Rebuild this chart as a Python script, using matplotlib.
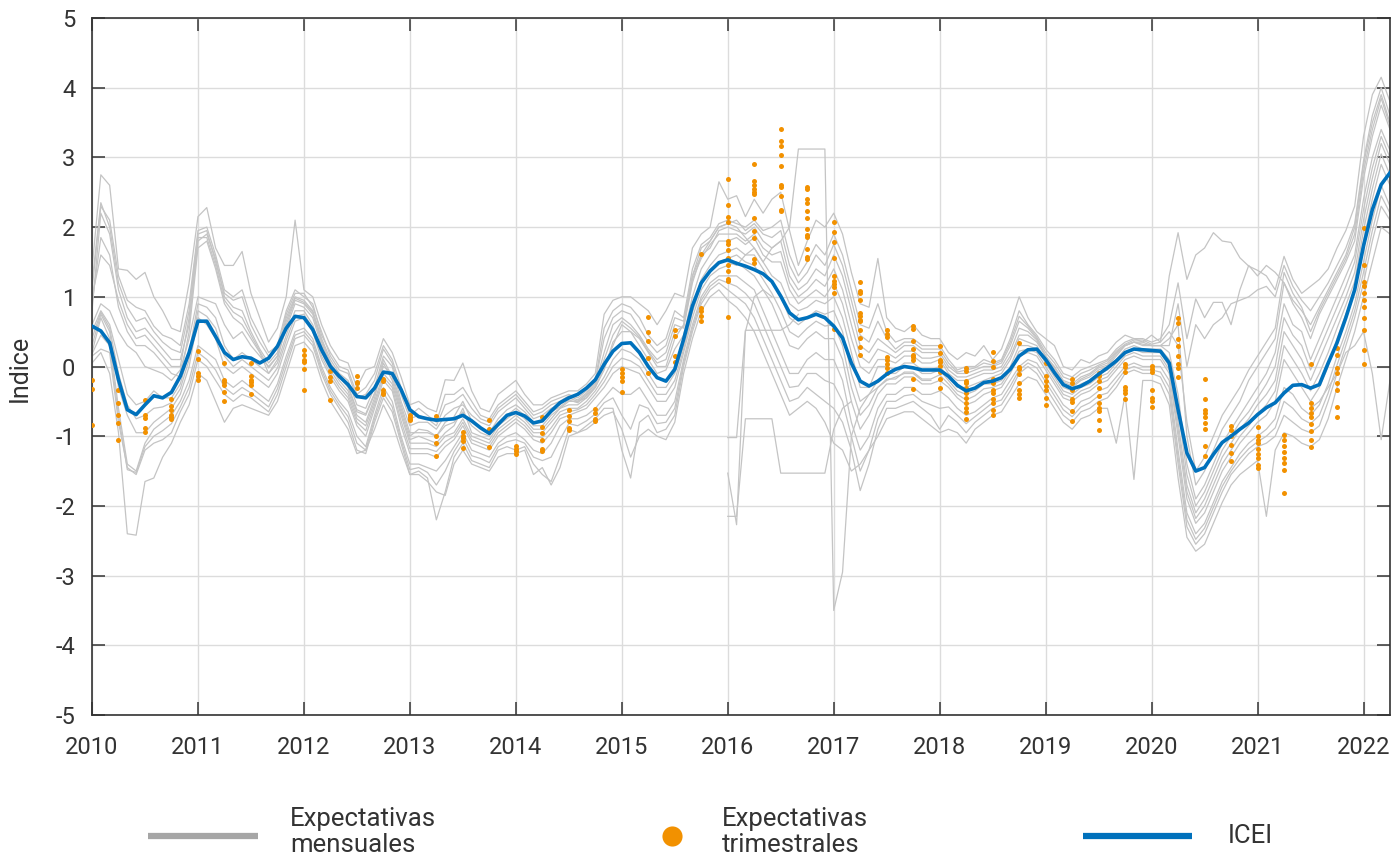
import numpy as np
import matplotlib
matplotlib.use("Agg")
import matplotlib.pyplot as plt
from matplotlib.lines import Line2D

plt.rcParams['font.family'] = ['Roboto', 'DejaVu Sans']
plt.rcParams['axes.unicode_minus'] = False

# ---------------- DATA ----------------
# ICEI, monthly Jan 2010 .. Apr 2022
icei = [
    0.58, 0.51, 0.34, -0.19, -0.62, -0.69, -0.55, -0.42, -0.45, -0.37, -0.14, 0.20,
    0.65, 0.65, 0.43, 0.20, 0.10, 0.14, 0.12, 0.05, 0.12, 0.29, 0.55, 0.72,
    0.70, 0.53, 0.24, 0.00, -0.14, -0.26, -0.43, -0.45, -0.31, -0.08, -0.10, -0.33,
    -0.62, -0.72, -0.75, -0.77, -0.76, -0.75, -0.70, -0.78, -0.88, -0.96, -0.83, -0.70,
    -0.66, -0.71, -0.81, -0.78, -0.64, -0.52, -0.45, -0.40, -0.31, -0.19, 0.03, 0.22,
    0.33, 0.34, 0.20, 0.00, -0.16, -0.21, -0.04, 0.39, 0.87, 1.20, 1.37, 1.49,
    1.53, 1.48, 1.44, 1.39, 1.33, 1.22, 1.01, 0.77, 0.67, 0.70, 0.75, 0.70,
    0.58, 0.41, 0.05, -0.21, -0.28, -0.21, -0.11, -0.04, 0.00, -0.02, -0.05, -0.05,
    -0.05, -0.14, -0.27, -0.35, -0.31, -0.23, -0.21, -0.16, -0.04, 0.15, 0.24, 0.25,
    0.10, -0.09, -0.26, -0.32, -0.28, -0.21, -0.11, -0.02, 0.08, 0.20, 0.25, 0.24,
    0.23, 0.22, 0.05, -0.62, -1.24, -1.50, -1.45, -1.26, -1.09, -1.00, -0.90, -0.81,
    -0.69, -0.59, -0.52, -0.38, -0.27, -0.26, -0.31, -0.26, 0.05, 0.34, 0.70, 1.10,
    1.73, 2.25, 2.61, 2.78,
]

# Monthly expectation series (grey), Jan 2010 .. Apr 2022
g1 = [
    1.40, 2.75, 2.60, 1.40, 1.38, 1.25, 1.35, 1.00, 0.80, 0.55, 0.50, 1.20,
    2.15, 2.28, 1.70, 1.45, 1.45, 1.65, 1.05, 0.70, 0.35, 0.55, 1.00, 2.10,
    1.10, 1.00, 0.60, 0.30, 0.10, 0.05, -0.30, -0.05, 0.00, 0.40, 0.20, -0.15,
    -0.55, -0.50, -0.60, -0.65, -0.19, -0.20, 0.05, -0.35, -0.60, -0.65, -0.40, -0.30,
    -0.20, -0.40, -0.55, -0.55, -0.45, -0.40, -0.35, -0.35, -0.25, -0.10, 0.75, 0.95,
    1.00, 1.00, 0.90, 0.80, 0.60, 0.80, 1.05, 1.00, 1.70, 1.90, 2.00, 2.65,
    2.40, 2.45, 2.15, 2.40, 2.20, 2.40, 2.50, 1.95, 1.45, 1.80, 2.10, 2.00,
    2.20, 1.90, 1.35, 0.90, 0.85, 1.55, 0.70, 0.55, 0.50, 0.60, 0.45, 0.40,
    0.40, 0.20, 0.10, 0.20, 0.15, 0.30, 0.10, 0.25, 0.60, 1.00, 0.70, 0.50,
    0.40, 0.30, 0.00, -0.05, 0.10, 0.05, 0.15, 0.20, 0.35, 0.45, 0.40, 0.35,
    0.45, 0.35, 1.30, 1.92, 1.25, 1.60, 1.70, 1.92, 1.80, 1.78, 1.56, 1.44,
    1.38, 1.30, 1.10, 1.58, 1.25, 1.05, 1.15, 1.25, 1.40, 1.70, 1.95, 2.30,
    3.30, 3.90, 4.15, 3.80,
]
g2 = [
    1.10, 2.30, 2.10, 1.30, 0.95, 0.85, 0.80, 0.58, 0.45, 0.40, 0.30, 0.90,
    1.95, 2.00, 1.60, 1.10, 1.00, 1.10, 0.70, 0.45, 0.20, 0.30, 0.80, 1.10,
    1.00, 0.90, 0.45, 0.20, 0.00, -0.05, -0.40, -0.30, -0.10, 0.30, 0.10, -0.30,
    -0.70, -0.60, -0.70, -0.80, -0.40, -0.40, -0.30, -0.50, -0.70, -0.75, -0.55, -0.45,
    -0.35, -0.50, -0.65, -0.60, -0.50, -0.45, -0.40, -0.45, -0.35, -0.20, 0.55, 0.80,
    0.90, 0.85, 0.70, 0.45, 0.30, 0.40, 0.80, 0.70, 1.40, 1.75, 1.85, 2.05,
    2.10, 2.05, 2.00, 2.10, 1.95, 2.00, 2.10, 1.60, 1.30, 1.50, 1.75, 1.60,
    1.90, 1.60, 1.10, 0.60, 0.55, 0.90, 0.50, 0.35, 0.40, 0.40, 0.30, 0.30,
    0.30, 0.10, -0.05, 0.00, 0.00, 0.10, 0.05, 0.10, 0.40, 0.80, 0.60, 0.45,
    0.25, 0.10, -0.10, -0.15, -0.05, 0.00, 0.05, 0.10, 0.25, 0.35, 0.40, 0.40,
    0.35, 0.40, 0.60, 1.20, 0.40, 0.97, 0.70, 0.92, 0.92, 0.60, 1.10, 1.45,
    1.30, 1.45, 1.35, 1.20, 0.95, 0.80, 0.60, 0.85, 1.10, 1.35, 1.60, 2.00,
    2.90, 3.50, 3.90, 3.50,
]
g3 = [
    0.80, 2.20, 1.90, 1.10, 0.70, 0.50, 0.55, 0.40, 0.25, 0.10, 0.10, 0.60,
    1.80, 1.90, 1.55, 1.00, 0.85, 0.80, 0.50, 0.25, 0.05, 0.20, 0.70, 1.00,
    0.95, 0.80, 0.40, 0.10, -0.10, -0.20, -0.55, -0.60, -0.30, 0.15, 0.00, -0.50,
    -0.85, -0.80, -0.80, -0.90, -0.70, -0.60, -0.55, -0.70, -0.80, -0.85, -0.65, -0.55,
    -0.45, -0.60, -0.75, -0.70, -0.60, -0.55, -0.45, -0.50, -0.40, -0.25, 0.20, 0.60,
    0.70, 0.60, 0.45, 0.25, 0.10, 0.20, 0.60, 0.55, 1.20, 1.60, 1.70, 1.95,
    2.00, 1.95, 1.90, 2.00, 1.80, 1.70, 1.80, 1.30, 1.10, 1.20, 1.40, 1.30,
    1.60, 1.30, 0.80, 0.30, 0.20, 0.40, 0.30, 0.20, 0.30, 0.30, 0.20, 0.20,
    0.20, 0.00, -0.10, -0.10, -0.05, 0.00, 0.00, 0.05, 0.30, 0.65, 0.55, 0.40,
    0.15, 0.00, -0.20, -0.25, -0.15, -0.10, 0.00, 0.05, 0.20, 0.30, 0.35, 0.35,
    0.30, 0.30, 0.40, 0.60, -1.00, -1.70, -1.50, -1.20, -0.90, -0.70, -0.50, -0.20,
    0.00, 0.20, 0.40, 1.20, 0.90, 0.70, 0.40, 0.75, 1.00, 1.25, 1.50, 1.80,
    2.70, 3.30, 3.75, 3.40,
]
g4 = [
    0.60, 0.90, 0.80, 0.50, 0.30, 0.20, 0.00, -0.05, -0.10, -0.20, -0.05, 0.40,
    1.00, 0.95, 0.90, 0.60, 0.40, 0.50, 0.30, 0.15, 0.00, 0.15, 0.55, 0.90,
    0.85, 0.70, 0.30, 0.05, -0.15, -0.30, -0.65, -0.70, -0.40, 0.00, -0.10, -0.55,
    -0.95, -0.95, -0.95, -1.00, -0.85, -0.80, -0.65, -0.85, -0.95, -1.00, -0.80, -0.70,
    -0.60, -0.70, -0.85, -0.85, -0.70, -0.60, -0.55, -0.55, -0.45, -0.30, -0.05, 0.35,
    0.50, 0.50, 0.30, 0.10, -0.10, -0.05, 0.25, 0.45, 1.00, 1.40, 1.60, 1.80,
    1.80, 1.85, 1.75, 1.85, 1.60, 1.50, 1.50, 1.10, 0.90, 1.00, 1.10, 1.00,
    1.20, 0.90, 0.40, 0.00, -0.10, 0.10, 0.10, 0.05, 0.15, 0.15, 0.05, 0.05,
    0.10, -0.10, -0.20, -0.20, -0.15, -0.10, -0.10, -0.05, 0.15, 0.45, 0.45, 0.35,
    0.15, -0.05, -0.25, -0.30, -0.20, -0.15, -0.05, 0.00, 0.15, 0.30, 0.35, 0.30,
    0.30, 0.30, 0.20, -0.40, -1.40, -1.90, -1.70, -1.40, -1.10, -0.90, -0.70, -0.50,
    -0.30, -0.10, 0.20, 0.90, 0.60, 0.50, 0.10, 0.40, 0.70, 1.00, 1.30, 1.60,
    2.40, 3.00, 3.40, 3.10,
]
g5 = [
    0.50, 0.80, 0.60, 0.10, -0.40, -0.55, -0.50, -0.35, -0.45, -0.45, -0.25, 0.20,
    0.90, 0.85, 0.70, 0.30, 0.10, 0.20, 0.10, 0.00, -0.10, 0.05, 0.45, 0.80,
    0.80, 0.60, 0.20, -0.05, -0.25, -0.40, -0.75, -0.85, -0.50, -0.10, -0.25, -0.70,
    -1.10, -1.10, -1.10, -1.15, -1.00, -0.95, -0.75, -1.00, -1.05, -1.10, -0.90, -0.80,
    -0.70, -0.80, -0.95, -0.95, -0.80, -0.65, -0.60, -0.60, -0.50, -0.35, -0.15, 0.10,
    0.25, 0.20, 0.10, -0.10, -0.30, -0.30, -0.10, 0.30, 0.85, 1.25, 1.45, 1.60,
    1.65, 1.70, 1.60, 1.60, 1.40, 1.20, 1.00, 0.70, 0.60, 0.70, 0.80, 0.75,
    0.80, 0.50, -0.10, -0.50, -0.40, -0.20, -0.10, -0.10, 0.00, 0.00, -0.10, -0.10,
    -0.05, -0.20, -0.35, -0.40, -0.35, -0.25, -0.25, -0.20, 0.00, 0.30, 0.30, 0.25,
    0.05, -0.15, -0.35, -0.40, -0.30, -0.25, -0.15, -0.10, 0.05, 0.20, 0.25, 0.20,
    0.20, 0.20, 0.00, -0.80, -1.70, -2.10, -1.90, -1.60, -1.30, -1.10, -0.90, -0.75,
    -0.55, -0.40, -0.20, 0.50, 0.30, 0.10, -0.20, 0.10, 0.40, 0.70, 1.00, 1.35,
    2.10, 2.70, 3.20, 2.90,
]
g6 = [
    0.30, 0.75, 0.50, -0.30, -0.70, -0.95, -0.95, -0.80, -0.70, -0.60, -0.40, 0.00,
    0.70, 0.60, 0.40, 0.00, -0.10, 0.00, -0.10, -0.20, -0.30, -0.10, 0.30, 0.65,
    0.70, 0.50, 0.10, -0.15, -0.35, -0.50, -0.85, -1.00, -0.60, -0.20, -0.35, -0.85,
    -1.25, -1.25, -1.25, -1.30, -1.15, -1.05, -0.85, -1.10, -1.15, -1.20, -1.00, -0.90,
    -0.80, -0.90, -1.05, -1.10, -0.95, -0.75, -0.70, -0.65, -0.60, -0.45, -0.30, -0.10,
    0.00, -0.05, -0.10, -0.30, -0.50, -0.50, -0.30, 0.20, 0.70, 1.10, 1.30, 1.40,
    1.45, 1.50, 1.40, 1.30, 1.10, 0.90, 0.60, 0.30, 0.25, 0.40, 0.50, 0.40,
    0.40, 0.10, -0.50, -0.90, -0.70, -0.40, -0.25, -0.25, -0.15, -0.15, -0.25, -0.25,
    -0.20, -0.30, -0.45, -0.55, -0.50, -0.40, -0.35, -0.30, -0.10, 0.15, 0.20, 0.15,
    -0.05, -0.25, -0.45, -0.50, -0.40, -0.35, -0.25, -0.20, -0.05, 0.10, 0.15, 0.10,
    0.10, 0.10, -0.10, -1.00, -1.90, -2.25, -2.10, -1.80, -1.50, -1.30, -1.10, -0.95,
    -0.80, -0.70, -0.50, 0.10, -0.10, -0.30, -0.50, -0.30, 0.00, 0.40, 0.75, 1.10,
    1.80, 2.40, 2.90, 2.60,
]
g7 = [
    0.20, 0.70, 0.40, -0.60, -1.40, -1.50, -1.10, -0.90, -0.80, -0.70, -0.50, -0.20,
    0.30, 0.20, 0.10, -0.20, -0.30, -0.20, -0.30, -0.40, -0.50, -0.25, 0.15, 0.50,
    0.55, 0.40, 0.00, -0.30, -0.50, -0.65, -1.00, -1.15, -0.70, -0.30, -0.50, -1.00,
    -1.40, -1.40, -1.45, -1.50, -1.35, -1.15, -0.95, -1.20, -1.25, -1.30, -1.10, -1.00,
    -0.95, -1.05, -1.20, -1.25, -1.10, -0.85, -0.75, -0.75, -0.70, -0.60, -0.45, -0.30,
    -0.40, -0.40, -0.30, -0.50, -0.70, -0.70, -0.50, 0.10, 0.60, 1.00, 1.20, 1.30,
    1.30, 1.30, 1.20, 1.10, 0.80, 0.50, 0.20, -0.10, -0.10, 0.10, 0.20, 0.10,
    0.10, -0.20, -0.80, -1.20, -1.00, -0.60, -0.40, -0.40, -0.30, -0.30, -0.40, -0.40,
    -0.35, -0.45, -0.60, -0.70, -0.65, -0.55, -0.45, -0.40, -0.20, 0.00, 0.10, 0.05,
    -0.15, -0.35, -0.55, -0.65, -0.50, -0.45, -0.35, -0.30, -0.15, 0.00, 0.05, 0.00,
    0.00, 0.00, -0.20, -1.20, -2.10, -2.40, -2.25, -1.95, -1.65, -1.45, -1.25, -1.10,
    -1.00, -0.90, -0.75, -0.30, -0.40, -0.60, -0.70, -0.55, -0.25, 0.15, 0.50, 0.90,
    1.50, 2.10, 2.60, 2.30,
]
g8 = [
    0.15, 0.25, 0.20, -0.80, -1.45, -1.55, -1.20, -1.10, -1.05, -0.95, -0.65, -0.40,
    0.10, 0.00, -0.20, -0.40, -0.50, -0.40, -0.45, -0.55, -0.65, -0.40, 0.00, 0.40,
    0.45, 0.30, -0.10, -0.40, -0.60, -0.80, -1.20, -1.25, -0.80, -0.45, -0.65, -1.10,
    -1.55, -1.50, -1.60, -2.20, -1.80, -1.30, -1.10, -1.35, -1.40, -1.45, -1.20, -1.15,
    -1.20, -1.15, -1.40, -1.55, -1.65, -1.30, -0.90, -0.95, -0.85, -0.75, -0.60, -0.60,
    -1.20, -1.60, -0.80, -0.70, -0.95, -0.90, -0.70, 0.00, 0.50, 0.90, 1.10, 1.20,
    1.10, 1.00, 0.90, 0.70, 0.40, 0.10, -0.20, -0.50, -0.45, -0.30, -0.40, -0.50,
    -0.60, -0.80, -1.20, -1.78, -1.40, -0.90, -0.60, -0.60, -0.55, -0.50, -0.60, -0.70,
    -0.90, -0.70, -0.80, -0.95, -0.80, -0.70, -0.60, -0.55, -0.35, -0.10, 0.00, -0.10,
    -0.30, -0.50, -0.70, -0.80, -0.65, -0.60, -0.50, -0.45, -0.30, -0.10, -0.05, -0.10,
    -0.10, -0.15, -0.40, -1.40, -2.30, -2.55, -2.40, -2.10, -1.80, -1.55, -1.40, -1.25,
    -1.15, -1.10, -1.00, -0.70, -0.80, -0.90, -0.95, -0.85, -0.50, -0.10, 0.30, 0.70,
    1.20, 1.80, 2.30, 2.10,
]
g9 = [
    0.05, 0.20, -0.10, -0.95, -2.40, -2.42, -1.65, -1.60, -1.30, -1.10, -0.80, -0.55,
    -0.10, -0.20, -0.50, -0.80, -0.60, -0.55, -0.60, -0.65, -0.70, -0.50, -0.10, 0.30,
    0.35, 0.20, -0.20, -0.50, -0.70, -0.90, -1.25, -1.20, -0.90, -0.55, -0.80, -1.20,
    -1.55, -1.55, -1.65, -1.80, -1.85, -1.40, -1.20, -1.40, -1.45, -1.50, -1.30, -1.25,
    -1.25, -1.20, -1.55, -1.45, -1.70, -1.45, -1.00, -0.95, -0.90, -0.80, -0.70, -0.65,
    -0.90, -1.30, -1.00, -0.90, -1.00, -1.05, -0.80, -0.10, 0.40, 0.80, 1.00, 1.10,
    0.95, 0.85, 0.70, 0.50, 0.20, -0.10, -0.40, -0.70, -0.60, -0.50, -0.60, -0.80,
    -1.10, -1.20, -1.50, -1.40, -1.20, -1.00, -0.75, -0.70, -0.65, -0.65, -0.75, -0.85,
    -0.95, -0.90, -0.95, -1.10, -0.90, -0.80, -0.70, -0.65, -0.45, -0.25, -0.15, -0.20,
    -0.40, -0.60, -0.80, -0.90, -0.75, -0.70, -0.60, -0.60, -1.10, -0.40, -1.62, -0.20,
    -0.20, -0.25, -0.55, -1.60, -2.45, -2.65, -2.55, -2.25, -1.95, -1.70, -1.55, -1.45,
    -1.35, -2.15, -1.20, -0.95, -1.00, -1.10, -1.15, -1.05, -0.75, -0.30, 0.10, 0.50,
    1.00, 1.50, 2.00, 1.90,
]
g10 = [
    0.90, 1.85, 1.60, 0.85, 0.50, 0.30, 0.30, 0.20, 0.05, -0.10, -0.15, 0.50,
    1.70, 1.80, 1.40, 0.90, 0.70, 0.60, 0.40, 0.20, -0.10, 0.10, 0.60, 0.95,
    0.90, 0.75, 0.35, 0.00, -0.20, -0.35, -0.70, -0.80, -0.45, 0.05, -0.20, -0.65,
    -1.05, -1.00, -1.05, -1.10, -0.95, -0.85, -0.60, -0.95, -1.00, -1.05, -0.85, -0.75,
    -0.65, -0.75, -0.90, -0.90, -0.75, -0.60, -0.50, -0.50, -0.45, -0.30, 0.00, 0.30,
    0.60, 0.50, 0.40, 0.20, 0.00, 0.00, 0.40, 0.60, 1.30, 1.60, 1.80, 2.00,
    2.05, 2.00, 1.85, 1.70, 1.50, 1.30, 1.20, 0.90, 0.80, 0.85, 0.95, 0.90,
    1.00, 0.70, 0.20, -0.30, -0.30, 0.00, 0.00, -0.05, 0.05, 0.05, -0.05, -0.05,
    0.00, -0.15, -0.30, -0.30, -0.25, -0.20, -0.15, -0.10, 0.10, 0.40, 0.35, 0.30,
    0.10, -0.10, -0.30, -0.35, -0.25, -0.20, -0.10, -0.05, 0.10, 0.25, 0.30, 0.25,
    0.25, 0.25, 0.10, -0.60, -1.55, -2.00, -1.80, -1.50, -1.20, -1.00, -0.80, -0.65,
    -0.45, -0.25, 0.00, 0.70, 0.45, 0.30, -0.05, 0.25, 0.55, 0.85, 1.15, 1.50,
    2.25, 2.85, 3.30, 3.00,
]
g11 = [
    1.20, 2.35, 2.00, 1.20, 0.85, 0.65, 0.70, 0.50, 0.35, 0.25, 0.20, 0.80,
    1.90, 1.95, 1.50, 1.05, 0.95, 1.00, 0.60, 0.35, 0.15, 0.25, 0.75, 1.05,
    1.05, 0.85, 0.50, 0.15, -0.05, -0.10, -0.45, -0.40, -0.20, 0.25, 0.05, -0.40,
    -0.75, -0.70, -0.75, -0.85, -0.55, -0.50, -0.40, -0.60, -0.75, -0.80, -0.60, -0.50,
    -0.40, -0.55, -0.70, -0.65, -0.55, -0.50, -0.42, -0.48, -0.38, -0.22, 0.40, 0.70,
    0.80, 0.75, 0.55, 0.35, 0.20, 0.30, 0.70, 0.65, 1.30, 1.70, 1.80, 2.00,
    2.05, 2.10, 1.95, 2.05, 1.90, 1.85, 1.95, 1.45, 1.20, 1.35, 1.60, 1.45,
    1.75, 1.45, 0.95, 0.45, 0.35, 0.65, 0.40, 0.25, 0.35, 0.35, 0.25, 0.25,
    0.25, 0.05, -0.08, -0.05, -0.02, 0.05, 0.02, 0.08, 0.35, 0.72, 0.58, 0.42,
    0.20, 0.05, -0.15, -0.20, -0.10, -0.05, 0.02, 0.08, 0.22, 0.32, 0.38, 0.38,
    0.32, 0.35, 0.50, 0.30, -0.80, -1.50, -1.30, -1.00, -0.70, -0.50, -0.30, -0.05,
    0.15, 0.35, 0.55, 1.35, 1.05, 0.85, 0.50, 0.80, 1.05, 1.30, 1.55, 1.90,
    2.80, 3.40, 3.85, 3.45,
]
g12 = [
    0.40, 0.78, 0.55, -0.10, -0.55, -0.75, -0.70, -0.60, -0.58, -0.52, -0.32, 0.10,
    0.80, 0.72, 0.55, 0.15, 0.00, 0.10, 0.00, -0.10, -0.20, -0.02, 0.38, 0.72,
    0.75, 0.55, 0.15, -0.10, -0.30, -0.45, -0.80, -0.92, -0.55, -0.15, -0.30, -0.78,
    -1.18, -1.18, -1.18, -1.22, -1.08, -1.00, -0.80, -1.05, -1.10, -1.15, -0.95, -0.85,
    -0.75, -0.85, -1.00, -1.02, -0.88, -0.70, -0.65, -0.62, -0.55, -0.40, -0.22, 0.00,
    0.12, 0.08, 0.00, -0.20, -0.40, -0.40, -0.20, 0.25, 0.78, 1.18, 1.38, 1.50,
    1.55, 1.60, 1.50, 1.45, 1.25, 1.05, 0.80, 0.50, 0.42, 0.55, 0.65, 0.58,
    0.60, 0.30, -0.30, -0.70, -0.55, -0.30, -0.18, -0.18, -0.08, -0.08, -0.18, -0.18,
    -0.12, -0.25, -0.40, -0.48, -0.42, -0.32, -0.30, -0.25, -0.05, 0.22, 0.25, 0.20,
    0.00, -0.20, -0.40, -0.45, -0.35, -0.30, -0.20, -0.15, 0.00, 0.15, 0.20, 0.15,
    0.15, 0.15, -0.05, -0.90, -1.80, -2.18, -2.00, -1.70, -1.40, -1.20, -1.00, -0.85,
    -0.68, -0.55, -0.35, 0.30, 0.10, -0.10, -0.35, -0.10, 0.20, 0.55, 0.88, 1.22,
    1.95, 2.55, 3.05, 2.75,
]
g13 = [
    0.18, 0.45, 0.30, -0.70, -1.48, -1.52, -1.15, -1.00, -0.92, -0.82, -0.58, -0.30,
    0.20, 0.10, -0.05, -0.30, -0.40, -0.30, -0.38, -0.48, -0.58, -0.32, 0.08, 0.45,
    0.50, 0.35, -0.05, -0.35, -0.55, -0.72, -1.10, -1.20, -0.75, -0.38, -0.58, -1.05,
    -1.48, -1.45, -1.52, -1.70, -1.50, -1.22, -1.02, -1.28, -1.32, -1.38, -1.15, -1.08,
    -1.05, -1.10, -1.30, -1.35, -1.30, -1.05, -0.82, -0.85, -0.78, -0.68, -0.52, -0.45,
    -0.70, -0.90, -0.55, -0.60, -0.82, -0.80, -0.60, 0.05, 0.55, 0.95, 1.15, 1.25,
    1.20, 1.15, 1.05, 0.90, 0.60, 0.30, 0.00, -0.30, -0.28, -0.10, -0.10, -0.20,
    -0.25, -0.50, -1.00, -1.50, -1.20, -0.75, -0.50, -0.50, -0.42, -0.40, -0.50, -0.55,
    -0.60, -0.58, -0.70, -0.82, -0.72, -0.62, -0.52, -0.48, -0.28, -0.05, 0.05, -0.02,
    -0.22, -0.42, -0.62, -0.72, -0.58, -0.52, -0.42, -0.38, -0.22, -0.05, 0.00, -0.05,
    -0.05, -0.08, -0.30, -1.30, -2.20, -2.48, -2.32, -2.02, -1.72, -1.50, -1.32, -1.18,
    -1.08, -1.00, -0.88, -0.50, -0.60, -0.75, -0.82, -0.70, -0.38, 0.02, 0.40, 0.80,
    1.35, 1.95, 2.45, 2.20,
]
g14 = [
    1.00, 1.60, 1.45, 0.95, 0.60, 0.40, 0.45, 0.30, 0.15, 0.00, 0.00, 0.70,
    1.85, 1.85, 1.45, 0.95, 0.78, 0.70, 0.45, 0.22, -0.02, 0.15, 0.65, 0.98,
    0.92, 0.78, 0.38, 0.05, -0.15, -0.28, -0.62, -0.68, -0.38, 0.10, -0.15, -0.60,
    -1.00, -0.90, -0.92, -1.00, -0.80, -0.72, -0.50, -0.78, -0.88, -0.95, -0.75, -0.62,
    -0.55, -0.65, -0.80, -0.78, -0.65, -0.58, -0.48, -0.52, -0.42, -0.28, 0.10, 0.45,
    0.65, 0.55, 0.42, 0.22, 0.05, 0.10, 0.50, 0.58, 1.25, 1.55, 1.75, 1.90,
    1.90, 1.90, 1.80, 1.90, 1.70, 1.60, 1.65, 1.20, 1.00, 1.10, 1.25, 1.15,
    1.40, 1.10, 0.60, 0.15, 0.05, 0.25, 0.20, 0.12, 0.22, 0.22, 0.12, 0.12,
    0.15, -0.05, -0.15, -0.15, -0.10, -0.05, -0.05, 0.00, 0.22, 0.55, 0.50, 0.38,
    0.15, -0.02, -0.22, -0.28, -0.18, -0.12, -0.02, 0.02, 0.18, 0.30, 0.35, 0.32,
    0.30, 0.30, 0.30, 0.90, 0.00, 0.60, 0.40, 0.60, 0.70, 0.90, 0.95, 1.00,
    1.10, 1.15, 1.00, 1.45, 1.15, 0.95, 0.80, 1.00, 1.20, 1.45, 1.70, 2.05,
    2.95, 3.60, 4.00, 3.60,
]

# Shorter monthly series (start year, start month)
s1_start = (2016, 1)
s1 = [1.50, 1.45, 1.60, 1.70, 1.50, 1.70, 1.80, 2.00, 3.12, 3.12, 3.12, 3.12,
      -3.50, -2.95, -1.00, -0.60, -0.40, -0.30, -0.20, -0.15, -0.10, -0.10, -0.20, -0.20]
s2_start = (2016, 1)
s2 = [-1.02, -1.02, 0.52, 0.52, 0.52, 0.52, 0.52, 0.60, 0.75]
s3_start = (2016, 1)
s3 = [-2.15, -2.15, -0.75, -0.75, -0.75, -0.75, -1.53, -1.53, -1.53, -1.53, -1.53, -1.53,
      -0.90, -0.60, -0.50]
s4_start = (2016, 1)
s4 = [-1.53, -2.27, 0.50, 1.00, 1.10, 1.00]
s5_start = (2021, 7)
s5 = [-0.60, -0.50, -0.30, -0.10, 0.20, 0.30, 0.50, -0.10, -1.05, -0.20]

# Quarterly expectations (orange dots)
quarter_labels = [
    "2010Q1", "2010Q2", "2010Q3", "2010Q4", "2011Q1", "2011Q2", "2011Q3",
    "2012Q1", "2012Q2", "2012Q3", "2012Q4", "2013Q1", "2013Q2", "2013Q3", "2013Q4",
    "2014Q1", "2014Q2", "2014Q3", "2014Q4", "2015Q1", "2015Q2", "2015Q3", "2015Q4",
    "2016Q1", "2016Q2", "2016Q3", "2016Q4", "2017Q1", "2017Q2", "2017Q3", "2017Q4",
    "2018Q1", "2018Q2", "2018Q3", "2018Q4", "2019Q1", "2019Q2", "2019Q3", "2019Q4",
    "2020Q1", "2020Q2", "2020Q3", "2020Q4", "2021Q1", "2021Q2", "2021Q3", "2021Q4",
    "2022Q1",
]
quarter_values = [
    [-0.19, -0.32, -0.84],
    [-0.34, -0.52, -0.70, -0.81, -1.05],
    [-0.48, -0.69, -0.74, -0.88, -0.94],
    [-0.46, -0.56, -0.62, -0.69, -0.72, -0.76],
    [0.22, 0.11, -0.09, -0.14, -0.19],
    [0.05, -0.19, -0.22, -0.26, -0.36, -0.49],
    [0.05, -0.14, -0.19, -0.22, -0.27, -0.39],
    [0.23, 0.17, 0.10, 0.06, -0.03, -0.33],
    [-0.07, -0.15, -0.21, -0.48],
    [-0.14, -0.22, -0.24, -0.31],
    [-0.18, -0.21, -0.34, -0.38, -0.40],
    [-0.69, -0.72, -0.75, -0.77],
    [-0.71, -1.00, -1.10, -1.29],
    [-0.94, -0.99, -1.02, -1.07, -1.17],
    [-0.77, -0.89, -1.16],
    [-1.14, -1.18, -1.21, -1.25],
    [-0.72, -0.87, -0.96, -1.06, -1.19, -1.21],
    [-0.62, -0.71, -0.78, -0.88, -0.91],
    [-0.61, -0.66, -0.75, -0.78],
    [-0.04, -0.09, -0.15, -0.21, -0.36],
    [0.71, 0.49, 0.36, 0.12, -0.09],
    [0.53, 0.44, 0.15, 0.06],
    [1.62, 0.84, 0.79, 0.73, 0.65],
    [2.69, 2.31, 2.15, 2.07, 1.80, 1.76, 1.67, 1.56, 1.46, 1.37, 1.26, 1.22, 0.71],
    [2.90, 2.66, 2.60, 2.55, 2.50, 2.47, 2.13, 1.94, 1.85, 1.54, 1.48],
    [3.41, 3.23, 3.16, 3.04, 2.88, 2.61, 2.58, 2.45, 2.25, 2.23],
    [2.58, 2.55, 2.40, 2.35, 2.23, 2.13, 1.97, 1.89, 1.86, 1.69, 1.57, 1.54],
    [2.08, 1.93, 1.78, 1.56, 1.30, 1.22, 1.19, 1.14, 1.06, 0.54],
    [1.21, 1.08, 1.05, 0.96, 0.77, 0.73, 0.67, 0.65, 0.53, 0.41, 0.28, 0.16],
    [0.52, 0.46, 0.43, 0.14, 0.09, 0.03, -0.02, -0.09],
    [0.58, 0.54, 0.36, 0.25, 0.17, 0.14, 0.10, -0.18, -0.32],
    [0.29, 0.19, 0.10, 0.06, 0.01, -0.08, -0.18, -0.31],
    [-0.02, -0.07, -0.21, -0.24, -0.31, -0.38, -0.45, -0.52, -0.59, -0.65, -0.76],
    [0.21, 0.08, 0.00, -0.18, -0.24, -0.33, -0.38, -0.47, -0.52, -0.62, -0.69],
    [0.33, 0.00, -0.04, -0.11, -0.23, -0.33, -0.40, -0.45],
    [0.05, -0.14, -0.21, -0.28, -0.34, -0.45, -0.55],
    [-0.18, -0.24, -0.34, -0.47, -0.51, -0.64, -0.78],
    [-0.09, -0.14, -0.21, -0.31, -0.42, -0.53, -0.59, -0.64, -0.77, -0.91],
    [0.04, 0.00, -0.08, -0.29, -0.33, -0.38, -0.47],
    [0.01, -0.03, -0.08, -0.33, -0.45, -0.50, -0.58],
    [0.70, 0.62, 0.40, 0.30, 0.15, 0.03, -0.02, -0.15],
    [-0.18, -0.47, -0.62, -0.67, -0.72, -0.81, -0.89, -1.14, -1.29],
    [-0.86, -0.91, -0.99, -1.12, -1.24, -1.36],
    [-0.87, -0.99, -1.05, -1.10, -1.18, -1.25, -1.31, -1.41, -1.45],
    [-0.98, -1.05, -1.14, -1.22, -1.31, -1.38, -1.48, -1.82],
    [0.04, -0.52, -0.59, -0.67, -0.72, -0.82, -0.93, -1.05, -1.15],
    [0.27, 0.17, -0.02, -0.09, -0.23, -0.34, -0.58, -0.72],
    [1.99, 1.45, 1.21, 1.15, 1.06, 0.95, 0.86, 0.70, 0.52, 0.23, 0.03],
]

x_ticks = list(range(2010, 2023))
y_ticks = list(range(-5, 6))

# ---------------- STYLE ----------------
W, H = 1398, 858
GREY = '#C4C4C4'
ORANGE = '#F29100'
BLUE = '#0071BC'
TXT = '#333333'


def month_x(n, start=(2010, 1)):
    y, m = start
    return y + (m - 1) / 12.0 + np.arange(n) / 12.0


fig = plt.figure(figsize=(W / 100, H / 100), dpi=100)
ax = fig.add_axes([92 / W, 1 - 715 / H, (1390 - 92) / W, (715 - 18) / H])

for s in [g1, g2, g3, g4, g5, g6, g7, g8, g9, g10, g11, g12, g13, g14]:
    ax.plot(month_x(len(s)), s, color=GREY, lw=0.9, zorder=2)
for st, s in [(s1_start, s1), (s2_start, s2), (s3_start, s3), (s4_start, s4), (s5_start, s5)]:
    ax.plot(month_x(len(s), st), s, color=GREY, lw=0.9, zorder=2)

for lab, vals in zip(quarter_labels, quarter_values):
    yr = int(lab[:4]); q = int(lab[-1])
    xq = yr + (q - 1) * 0.25
    ax.plot([xq] * len(vals), vals, 'o', ms=3.6, color=ORANGE, mec='none', zorder=3)

ax.plot(month_x(len(icei)), icei, color=BLUE, lw=2.6, zorder=4, solid_joinstyle='round')

ax.set_xlim(2010, 2022.25)
ax.set_ylim(-5, 5)
ax.set_xticks(x_ticks)
ax.set_yticks(y_ticks)
ax.grid(True, color='#DCDCDC', lw=1.0, zorder=0)
ax.set_axisbelow(True)
ax.tick_params(direction='in', length=9.5, width=1.1, top=True, right=True,
               colors=TXT, labelsize=17)
ax.tick_params(axis='x', pad=15)
ax.tick_params(axis='y', pad=12)
for sp in ax.spines.values():
    sp.set_color(TXT)
    sp.set_linewidth(1.2)

fig.text(20 / W, 1 - 368 / H, 'Indice', rotation=90, ha='center', va='center',
         fontsize=18, color=TXT)

# legend
ly = 1 - 836 / H
ty = 1 - 832 / H
fig.add_artist(Line2D([148 / W, 258 / W], [ly, ly], color='#A6A6A6', lw=4.5,
                      solid_capstyle='butt'))
fig.text(290 / W, ty, 'Expectativas\nmensuales', ha='left', va='center',
         fontsize=18.5, color=TXT, linespacing=1.1)
fig.add_artist(Line2D([672 / W], [ly], marker='o', ms=14.5, color=ORANGE,
                      mec='none', ls='none'))
fig.text(722 / W, ty, 'Expectativas\ntrimestrales', ha='left', va='center',
         fontsize=18.5, color=TXT, linespacing=1.1)
fig.add_artist(Line2D([1083 / W, 1192 / W], [ly, ly], color=BLUE, lw=4.5,
                      solid_capstyle='butt'))
fig.text(1228 / W, ly, 'ICEI', ha='left', va='center', fontsize=18.5, color=TXT)

fig.savefig('out.png', dpi=100)
